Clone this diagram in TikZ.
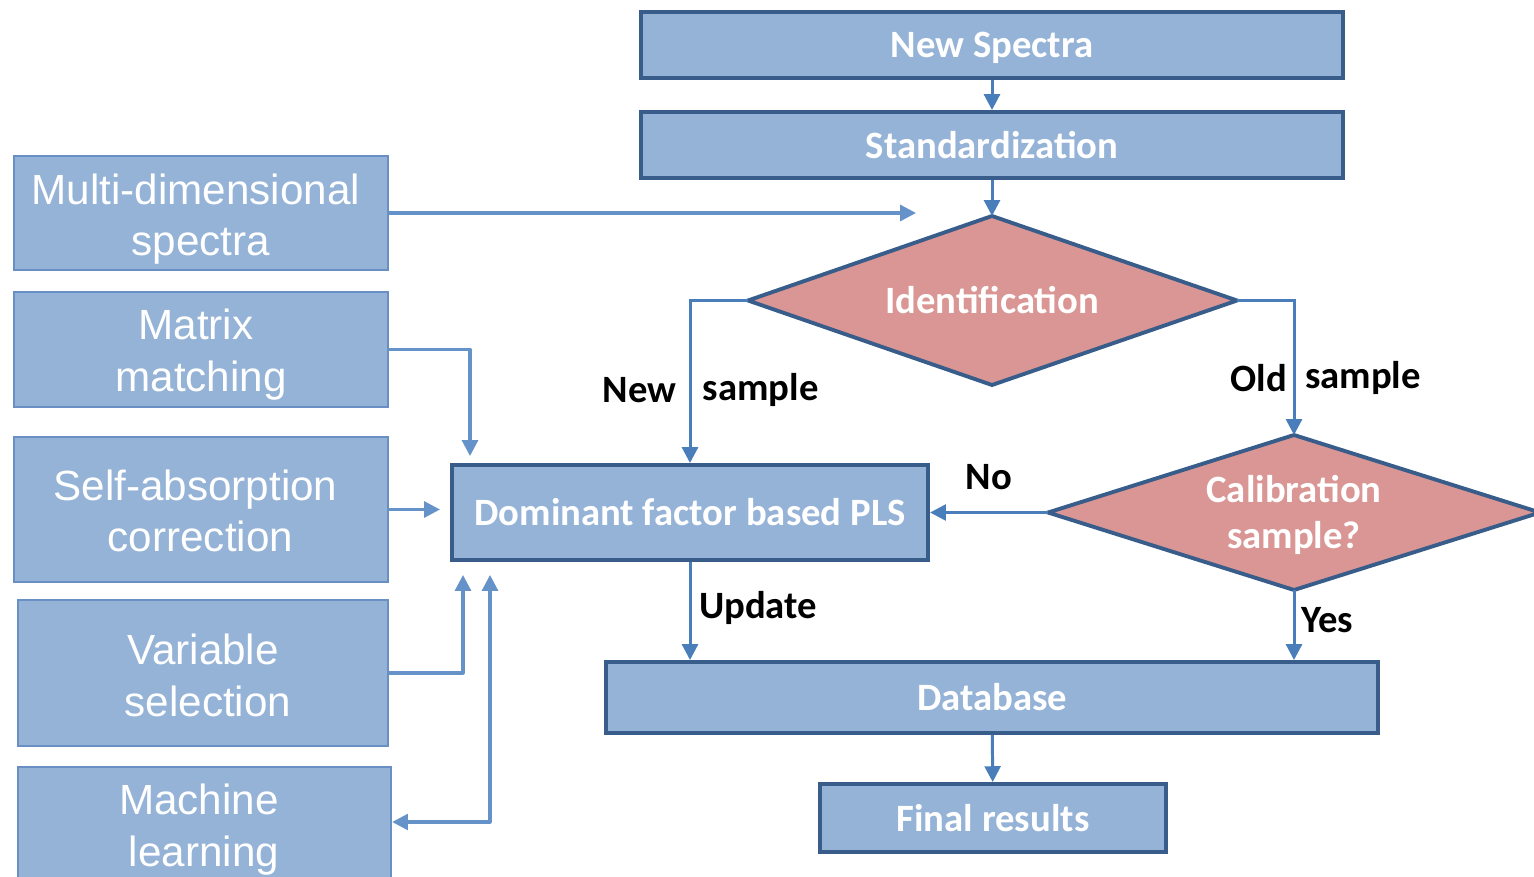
\documentclass[tikz,border=0pt]{standalone}
\usepackage{fontspec}
\setmainfont{Liberation Sans}
\newfontfamily\calib{Carlito}
\usetikzlibrary{arrows.meta}
\definecolor{boxfill}{HTML}{95B3D7}
\definecolor{boxdark}{HTML}{385D8A}
\definecolor{leftedge}{HTML}{6A8FC4}
\definecolor{diafill}{HTML}{D99694}
\definecolor{arrowc}{HTML}{4A7EBB}
\definecolor{arrowl}{HTML}{6592C9}
\newcommand{\fl}[1]{#1\hspace*{0.1cm}}
\begin{document}
\begin{tikzpicture}[x=0.01cm,y=-0.01cm,
  rbox/.style={draw=boxdark, line width=1.1pt, fill=boxfill, inner sep=0pt, text=white,
    font=\calib\bfseries\fontsize{11}{13}\selectfont, align=center},
  lbox/.style={draw=leftedge, line width=0.6pt, fill=boxfill, inner sep=0pt},
  ltext/.style={inner sep=0pt, text=white, font=\fontsize{12}{14.6}\selectfont, align=center},
  diashape/.style={draw=boxdark, line width=1.1pt, fill=diafill, line join=miter},
  diatext/.style={inner sep=0pt, text=white,
    font=\calib\bfseries\fontsize{11}{13.3}\selectfont, align=center},
  conn/.style={draw=arrowc, line width=0.85pt, -{Triangle[length=4.5pt,width=4.5pt]}},
  lconn/.style={draw=arrowl, line width=0.9pt, line join=round, -{Triangle[length=4.5pt,width=4.5pt]}},
  lab/.style={font=\calib\bfseries\fontsize{11}{13}\selectfont, text=black, inner sep=0pt}]
\useasboundingbox (0,0) rectangle (1534,876);

% right column boxes
\node[rbox, minimum width=7.02cm, minimum height=0.66cm, text depth=0pt] (ns) at (992,45) {New Spectra};
\node[rbox, minimum width=7.02cm, minimum height=0.66cm] (st) at (992,145) {Standardization};
\node[rbox, minimum width=4.76cm, minimum height=0.95cm] (dom) at (690,512.5) {Dominant factor based PLS};
\node[rbox, minimum width=7.72cm, minimum height=0.71cm] (db) at (992,697.5) {Database};
\node[rbox, minimum width=3.46cm, minimum height=0.68cm] (fr) at (993,818) {Final results};

% diamonds
\coordinate (idN) at (992,216);
\coordinate (idW) at (748,300.5);
\coordinate (idE) at (1237,300.5);
\coordinate (idS) at (992,385);
\draw[diashape] (idN) -- (idE) -- (idS) -- (idW) -- cycle;
\node[diatext] (id) at (992,300.5) {Identification};

\coordinate (calN) at (1294,435);
\coordinate (calW) at (1048,512.5);
\coordinate (calE) at (1540,512.5);
\coordinate (calS) at (1294,590);
\draw[diashape] (calN) -- (calE) -- (calS) -- (calW) -- cycle;
\node[diatext] (cal) at (1294,515) {Calibration\\sample?};

% left column
\node[lbox, minimum width=3.74cm, minimum height=1.14cm] (md) at (201,213) {};
\node[lbox, minimum width=3.74cm, minimum height=1.15cm] (mm) at (201,349.5) {};
\node[lbox, minimum width=3.74cm, minimum height=1.45cm] (sa) at (201,509.5) {};
\node[lbox, minimum width=3.70cm, minimum height=1.46cm] (vs) at (203,673) {};
\node[lbox, minimum width=3.73cm, minimum height=1.16cm] (ml) at (204.5,825) {};
\node[ltext] (mdt) at (201,219) {\fl{Multi-dimensional}\\spectra};
\node[ltext] (mmt) at (201,354.5) {\fl{Matrix}\\matching};
\node[ltext] (sat) at (200.5,511) {\fl{Self-absorption}\\correction};
\node[ltext] (vst) at (208,675.5) {\fl{Variable}\\selection};
\node[ltext] (mlt) at (204,829.5) {\fl{Machine}\\learning};

% left connectors
\coordinate (mdend) at (916,213);
\coordinate (mmend) at (470,456);
\coordinate (saend) at (440,509.5);
\coordinate (vsend) at (463,575);
\coordinate (mlend) at (490,575);
\draw[lconn] (md.east) -- (mdend);
\draw[lconn] (mm.east) -| (mmend);
\draw[lconn] (sa.east) -- (saend);
\draw[lconn] (vs.east) -| (vsend);
\draw[lconn, {Triangle[length=4.5pt,width=4.5pt]}-{Triangle[length=4.5pt,width=4.5pt]}] ([yshift=0.03cm]ml.east) -| (mlend);

% right connectors
\draw[conn] (ns) -- (st);
\draw[conn] (st.south) -- (idN);
\draw[conn] (idW) -| (dom.north);
\draw[conn] (idE) -| (calN);
\draw[conn] (calW) -- (dom.east);
\draw[conn] (calS) -- (calS |- db.north);
\draw[conn] (dom.south) -- (dom.south |- db.north);
\draw[conn] (db) -- (fr);

% labels
\node[lab, anchor=east] (lnew) at (677,390) {New};
\node[lab, anchor=west] (lsam) at (702,390) {sample};
\node[lab] (lold) at (1259,378) {Old};
\node[lab] (lsam2) at (1363,378) {sample};
\node[lab] (lno) at (989,477) {No};
\node[lab] (lyes) at (1327,620) {Yes};
\node[lab] (lupd) at (758,608) {Update};
\end{tikzpicture}
\end{document}
